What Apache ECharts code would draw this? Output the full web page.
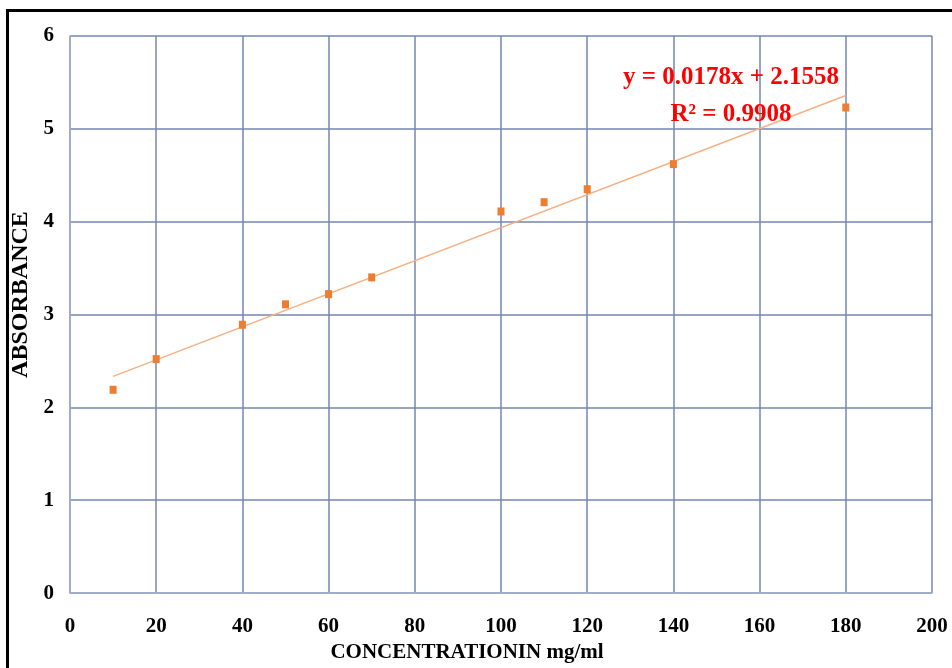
<!DOCTYPE html>
<html>
<head>
<meta charset="utf-8">
<script src="https://cdn.jsdelivr.net/npm/echarts@6/dist/echarts.min.js"></script>
<style>
  html, body { margin: 0; padding: 0; background: #fff; }
  #chart { width: 952px; height: 668px; }
</style>
</head>
<body>
<div id="chart"></div>
<script>
// Calibration data: absorbance vs concentration
const concentration = [10, 20, 40, 50, 60, 70, 100, 110, 120, 140, 180];
const absorbance = [2.19, 2.52, 2.89, 3.11, 3.22, 3.40, 4.11, 4.21, 4.35, 4.62, 5.23];

// Linear trendline as reported on the chart
const slope = 0.0178;
const intercept = 2.1558;
const rSquared = 0.9908;
const trendRange = [10, 180];

const xTicks = { min: 0, max: 200, interval: 20 };
const yTicks = { min: 0, max: 6, interval: 1 };

const points = concentration.map((c, i) => [c, absorbance[i]]);
const trend = trendRange.map(x => [x, slope * x + intercept]);

const serif = '"Liberation Serif", "Times New Roman", serif';
const gridColor = '#7586b0';

const chart = echarts.init(document.getElementById('chart'), null, { renderer: 'canvas' });
chart.setOption({
  animation: false,
  backgroundColor: '#ffffff',
  grid: { left: 70, right: 20, top: 36, bottom: 74, containLabel: false },
  xAxis: {
    type: 'value',
    min: xTicks.min, max: xTicks.max, interval: xTicks.interval,
    name: 'CONCENTRATIONIN mg/ml',
    nameLocation: 'middle',
    nameGap: 48,
    nameTextStyle: { fontFamily: serif, fontWeight: 'bold', fontSize: 21, color: '#000', padding: [0, 68, 0, 0] },
    axisLine: { show: true, lineStyle: { color: '#a4b0cc', width: 1.5 } },
    axisTick: { show: false },
    axisLabel: { fontFamily: serif, fontWeight: 'bold', fontSize: 21, color: '#000', margin: 23 },
    splitLine: { show: true, lineStyle: { color: gridColor, width: 1.5 } }
  },
  yAxis: {
    type: 'value',
    min: yTicks.min, max: yTicks.max, interval: yTicks.interval,
    name: 'ABSORBANCE',
    nameLocation: 'middle',
    nameGap: 30,
    nameRotate: 90,
    nameTextStyle: { fontFamily: serif, fontWeight: 'bold', fontSize: 24, color: '#000', padding: [0, 0, 0, 40] },
    axisLine: { show: true, lineStyle: { color: '#a4b0cc', width: 1.5 } },
    axisTick: { show: false },
    axisLabel: { fontFamily: serif, fontWeight: 'bold', fontSize: 21, color: '#000', margin: 16 },
    splitLine: { show: true, lineStyle: { color: gridColor, width: 1.5 } }
  },
  series: [
    {
      name: 'Trendline',
      type: 'line',
      data: trend,
      symbol: 'none',
      lineStyle: { color: '#f4b183', width: 1.5 },
      z: 3
    },
    {
      name: 'Absorbance',
      type: 'scatter',
      data: points,
      symbol: 'rect',
      symbolSize: [7, 8],
      itemStyle: { color: '#ed7d31', opacity: 1 },
      z: 4
    }
  ],
  graphic: [
    {
      type: 'polyline',
      shape: { points: [[7.5, 668], [7.5, 10.5], [952, 10.5]] },
      style: { stroke: '#000', lineWidth: 3, fill: null },
      z: 10
    },
    {
      type: 'text',
      x: 731, y: 59,
      style: {
        text: 'y = ' + slope.toFixed(4) + 'x + ' + intercept.toFixed(4) + '\nR² = ' + rSquared.toFixed(4),
        fill: '#ff0000',
        font: 'bold 25px ' + serif,
        align: 'center',
        verticalAlign: 'top',
        lineHeight: 37
      },
      z: 10
    }
  ]
});
</script>
</body>
</html>
